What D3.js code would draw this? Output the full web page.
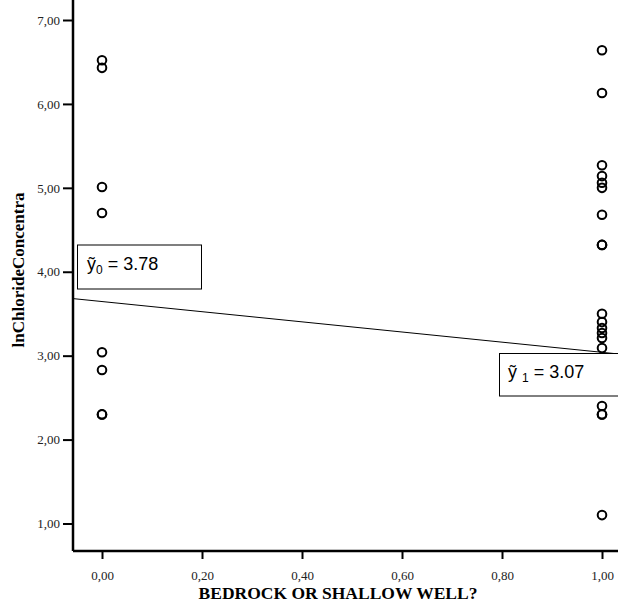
<!DOCTYPE html>
<html><head><meta charset="utf-8">
<script src="https://cdn.jsdelivr.net/npm/d3@7"></script>
<style>body{margin:0;background:#fff}svg{display:block}</style>
</head><body>
<script>
const xTicks = [0, 0.2, 0.4, 0.6, 0.8, 1.0];
const yTicks = [1, 2, 3, 4, 5, 6, 7];
const xGroup0 = [6.52, 6.43, 5.01, 4.70, 3.04, 2.83, 2.30, 2.30];
const xGroup1 = [6.64, 6.13, 5.27, 5.14, 5.06, 5.00, 4.68, 4.32, 4.32, 3.50, 3.40, 3.33, 3.27, 3.21, 3.09, 2.40, 2.30, 2.30, 1.10];
const fitLine = [3.645, 3.04]; // fitted value at x=0 and x=1
const labels = [{base:"ỹ", sub:"0", text:" = 3.78"}, {base:"ỹ ", sub:"1", text:" = 3.07"}];

const W = 618, H = 608;
const svg = d3.select("body").append("svg").attr("width", W).attr("height", H);
const left = 73, bottom = 551;
const x = d3.scaleLinear().domain([0, 1]).range([102, 602]);
const y = d3.scaleLinear().domain([1, 7]).range([523.5, 20]);

const points = xGroup0.map(v => ({x: 0, y: v})).concat(xGroup1.map(v => ({x: 1, y: v})));

// fit line
svg.append("line")
  .attr("x1", left).attr("y1", y(fitLine[0] + (fitLine[1]-fitLine[0]) * x.invert(left)))
  .attr("x2", W).attr("y2", y(fitLine[0] + (fitLine[1]-fitLine[0]) * x.invert(W)))
  .attr("stroke", "#000").attr("stroke-width", 1);

// points
svg.append("g").selectAll("circle").data(points).join("circle")
  .attr("cx", d => x(d.x)).attr("cy", d => y(d.y)).attr("r", 4.3)
  .attr("fill", "none").attr("stroke", "#000").attr("stroke-width", 2);

// y axis
const yAxis = svg.append("g").attr("transform", `translate(${left},0)`)
  .call(d3.axisLeft(y).tickValues(yTicks).tickSize(10).tickPadding(3)
    .tickFormat(d => d3.format(".2f")(d).replace(".", ",")));
yAxis.select(".domain").attr("d", `M0,0V${bottom}`).attr("stroke-width", 2.5);
yAxis.selectAll(".tick line").attr("stroke-width", 2);
yAxis.selectAll("text").attr("font-family", "Liberation Serif, serif").attr("font-size", 13).attr("fill", "#222");

// x axis
const xAxis = svg.append("g").attr("transform", `translate(0,${bottom})`)
  .call(d3.axisBottom(x).tickValues(xTicks).tickSize(8).tickPadding(12)
    .tickFormat(d => d3.format(".2f")(d).replace(".", ",")));
xAxis.select(".domain").attr("d", `M${left},0H${W}`).attr("stroke-width", 2.5);
xAxis.selectAll(".tick line").attr("stroke-width", 2);
xAxis.selectAll("text").attr("font-family", "Liberation Serif, serif").attr("font-size", 13).attr("fill", "#222");

// axis titles
svg.append("text").attr("x", 338).attr("y", 599).attr("text-anchor", "middle")
  .attr("font-family", "Liberation Serif, serif").attr("font-weight", "bold").attr("font-size", 17.5)
  .text("BEDROCK OR SHALLOW WELL?");
svg.append("text").attr("transform", "translate(24,270) rotate(-90)").attr("text-anchor", "middle")
  .attr("font-family", "Liberation Serif, serif").attr("font-weight", "bold").attr("font-size", 17)
  .text("lnChlorideConcentra");

// label boxes
const boxes = [{bx: 77.5, by: 245, bw: 124, bh: 44, tx: 87, ty: 270},
               {bx: 499.5, by: 353.5, bw: 140, bh: 42.5, tx: 508, ty: 378}];
labels.forEach((lab, i) => {
  const b = boxes[i];
  svg.append("rect").attr("x", b.bx).attr("y", b.by).attr("width", b.bw).attr("height", b.bh)
    .attr("fill", "#fff").attr("stroke", "#000").attr("stroke-width", 1);
  const t = svg.append("text").attr("x", b.tx).attr("y", b.ty)
    .attr("font-family", "Liberation Sans, Arial, sans-serif").attr("font-size", 18).attr("fill", "#000");
  t.append("tspan").text(lab.base);
  t.append("tspan").attr("font-size", 12).attr("dy", 4).text(lab.sub);
  t.append("tspan").attr("dy", -4).text(lab.text);
});
</script>
</body></html>
